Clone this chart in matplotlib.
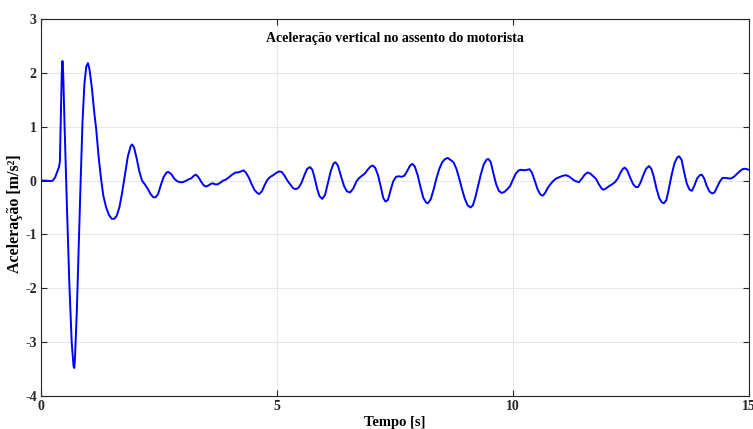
import matplotlib
matplotlib.use("Agg")
import matplotlib.pyplot as plt

# Data (time [s], acceleration [m/s^2])
tempo = [0.00, 0.10, 0.20, 0.25, 0.30, 0.35, 0.38, 0.40, 0.42, 0.44, 0.455, 0.47, 0.50, 0.55,
         0.60, 0.65, 0.69, 0.705, 0.72, 0.76, 0.80, 0.84, 0.88, 0.92, 0.96, 0.995, 1.03, 1.08,
         1.13, 1.17, 1.22, 1.27, 1.32, 1.38, 1.44, 1.50, 1.55, 1.60, 1.66, 1.72, 1.78, 1.84,
         1.90, 1.93, 1.97, 2.03, 2.08, 2.14, 2.20, 2.26, 2.32, 2.38, 2.43, 2.48, 2.54, 2.60,
         2.66, 2.70, 2.76, 2.82, 2.88, 2.94, 3.00, 3.06, 3.12, 3.18, 3.24, 3.28, 3.33, 3.40,
         3.45, 3.50, 3.55, 3.60, 3.64, 3.69, 3.74, 3.80, 3.86, 3.92, 3.98, 4.05, 4.12, 4.17,
         4.24, 4.29, 4.34, 4.40, 4.46, 4.52, 4.58, 4.62, 4.68, 4.74, 4.80, 4.86, 4.92, 4.98,
         5.05, 5.10, 5.16, 5.22, 5.28, 5.34, 5.40, 5.46, 5.52, 5.58, 5.64, 5.70, 5.75, 5.80,
         5.85, 5.90, 5.96, 6.02, 6.08, 6.14, 6.20, 6.24, 6.29, 6.35, 6.42, 6.48, 6.55, 6.62,
         6.68, 6.73, 6.80, 6.86, 6.92, 6.98, 7.03, 7.08, 7.14, 7.20, 7.25, 7.30, 7.35, 7.40,
         7.46, 7.52, 7.58, 7.64, 7.70, 7.76, 7.82, 7.87, 7.92, 7.98, 8.04, 8.10, 8.16, 8.20,
         8.26, 8.32, 8.38, 8.44, 8.50, 8.56, 8.62, 8.68, 8.74, 8.80, 8.86, 8.92, 8.98, 9.04,
         9.10, 9.15, 9.20, 9.26, 9.32, 9.38, 9.44, 9.48, 9.53, 9.58, 9.64, 9.70, 9.76, 9.82,
         9.88, 9.94, 10.00, 10.06, 10.12, 10.18, 10.24, 10.30, 10.35, 10.40, 10.46, 10.52,
         10.58, 10.63, 10.68, 10.74, 10.80, 10.86, 10.92, 11.00, 11.06, 11.12, 11.18, 11.24,
         11.30, 11.36, 11.40, 11.46, 11.52, 11.58, 11.64, 11.70, 11.76, 11.82, 11.88, 11.92,
         11.98, 12.04, 12.10, 12.16, 12.22, 12.28, 12.33, 12.37, 12.42, 12.48, 12.54, 12.60,
         12.65, 12.70, 12.76, 12.82, 12.88, 12.93, 12.98, 13.04, 13.10, 13.16, 13.20, 13.25,
         13.30, 13.36, 13.42, 13.48, 13.52, 13.57, 13.62, 13.68, 13.74, 13.79, 13.84, 13.90,
         13.96, 14.00, 14.05, 14.10, 14.16, 14.22, 14.27, 14.32, 14.38, 14.44, 14.50, 14.56,
         14.62, 14.68, 14.74, 14.80, 14.86, 14.92, 15.00]
aceleracao = [0.00, 0.00, -0.01, 0.00, 0.06, 0.18, 0.25, 0.35, 1.20, 2.00, 2.22, 2.00, 1.00, -0.50,
              -1.90, -3.00, -3.45, -3.48, -3.30, -2.40, -1.20, 0.00, 1.10, 1.80, 2.12, 2.18, 2.05, 1.70,
              1.25, 0.95, 0.45, 0.05, -0.28, -0.50, -0.64, -0.71, -0.71, -0.66, -0.50, -0.22, 0.12, 0.45,
              0.64, 0.67, 0.62, 0.40, 0.18, 0.00, -0.07, -0.15, -0.25, -0.31, -0.31, -0.25, -0.08, 0.07,
              0.15, 0.16, 0.12, 0.04, -0.01, -0.03, -0.03, -0.01, 0.02, 0.04, 0.09, 0.11, 0.07, -0.03,
              -0.09, -0.11, -0.09, -0.06, -0.05, -0.07, -0.07, -0.04, 0.00, 0.02, 0.06, 0.11, 0.15, 0.15,
              0.17, 0.19, 0.15, 0.06, -0.06, -0.17, -0.23, -0.25, -0.20, -0.08, 0.02, 0.07, 0.10, 0.14,
              0.17, 0.16, 0.09, 0.00, -0.07, -0.14, -0.16, -0.13, -0.04, 0.10, 0.22, 0.25, 0.20, 0.04,
              -0.15, -0.29, -0.34, -0.26, -0.04, 0.18, 0.32, 0.34, 0.28, 0.10, -0.10, -0.20, -0.22, -0.14,
              -0.02, 0.04, 0.09, 0.13, 0.20, 0.26, 0.28, 0.24, 0.10, -0.12, -0.32, -0.39, -0.36, -0.20,
              -0.02, 0.07, 0.08, 0.07, 0.09, 0.18, 0.28, 0.31, 0.26, 0.10, -0.12, -0.32, -0.41, -0.42,
              -0.34, -0.16, 0.05, 0.22, 0.34, 0.40, 0.42, 0.38, 0.34, 0.22, 0.04, -0.16, -0.34, -0.46,
              -0.50, -0.46, -0.32, -0.10, 0.12, 0.30, 0.39, 0.40, 0.34, 0.15, -0.06, -0.19, -0.23, -0.21,
              -0.16, -0.10, 0.02, 0.13, 0.19, 0.20, 0.19, 0.20, 0.21, 0.15, 0.00, -0.16,
              -0.26, -0.28, -0.23, -0.13, -0.06, 0.00, 0.04, 0.07, 0.09, 0.10, 0.08, 0.04,
              0.00, -0.02, -0.03, 0.04, 0.11, 0.15, 0.13, 0.08, 0.03, -0.07, -0.15, -0.17,
              -0.14, -0.10, -0.07, -0.03, 0.04, 0.15, 0.22, 0.24, 0.19, 0.06, -0.06, -0.12,
              -0.12, -0.04, 0.10, 0.22, 0.27, 0.22, 0.08, -0.15, -0.33, -0.41, -0.42, -0.36,
              -0.16, 0.10, 0.32, 0.43, 0.45, 0.39, 0.18, -0.05, -0.17, -0.19, -0.10, 0.04,
              0.10, 0.11, 0.04, -0.09, -0.20, -0.24, -0.22, -0.13, -0.02, 0.05, 0.05, 0.04,
              0.04, 0.07, 0.12, 0.17, 0.21, 0.22, 0.20]

x_ticks = [0, 5, 10, 15]
y_ticks = [-4, -3, -2, -1, 0, 1, 2, 3]
titulo = "Aceleração vertical no assento do motorista"
x_label = "Tempo [s]"
y_label = "Aceleração [m/s²]"

plt.rcParams['font.family'] = ['Liberation Serif', 'DejaVu Serif']
plt.rcParams['font.weight'] = 'bold'
plt.rcParams['axes.unicode_minus'] = False

fig = plt.figure(figsize=(7.53, 4.29), dpi=100)
ax = fig.add_axes([41/753, 1-396/429, (749-41)/753, (396-19)/429])

ax.plot(tempo, aceleracao, color='#0000ff', lw=1.4)

ax.set_xlim(0, 15)
ax.set_ylim(-4, 3)
ax.set_xticks(x_ticks)
ax.set_yticks(y_ticks)
ax.grid(True, color='#e6e6e6', lw=0.8)
ax.set_axisbelow(True)
ax.tick_params(direction='in', top=True, right=True, length=4, width=0.8,
               colors='#262626', labelsize=10, pad=3)
for lab in ax.get_xticklabels() + ax.get_yticklabels():
    lab.set_fontweight('bold')
for s in ax.spines.values():
    s.set_color('#262626')
    s.set_linewidth(0.8)

ax.set_xlabel(x_label, fontsize=10.5, fontweight='bold', labelpad=2)
ax.set_ylabel(y_label, fontsize=11.5, fontweight='bold')
ax.yaxis.set_label_coords(-0.025, 0.483)
ax.text(0.5, 0.947, titulo, transform=ax.transAxes, ha='center', va='center',
        fontsize=10, fontweight='bold')

fig.savefig("out.png", dpi=100)
